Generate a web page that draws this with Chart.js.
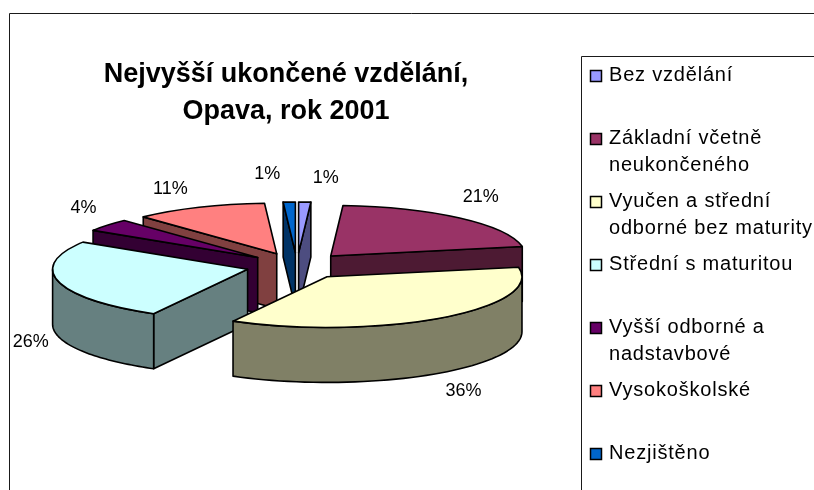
<!DOCTYPE html>
<html><head><meta charset="utf-8">
<style>html,body{margin:0;padding:0;background:#fff;overflow:hidden}canvas{display:block}</style>
<script src="https://cdn.jsdelivr.net/npm/chart.js@4/dist/chart.umd.min.js"></script>
</head><body><canvas id="c" width="814" height="490"></canvas>
<script>
const categories = ["Bez vzdělání","Základní včetně neukončeného","Vyučen a střední odborné bez maturity","Střední s maturitou","Vyšší odborné a nadstavbové","Vysokoškolské","Nezjištěno"];
const legendLines = [["Bez vzdělání"],["Základní včetně","neukončeného"],["Vyučen a střední","odborné bez maturity"],["Střední s maturitou"],["Vyšší odborné a","nadstavbové"],["Vysokoškolské"],["Nezjištěno"]];
const shares = [1,21,36,26,4,11,1];
const topColors = ["#9999FF","#993366","#FFFFCC","#CCFFFF","#660066","#FF8080","#0066CC"];
const wallColors = ["#4D4D80","#4D1A33","#808066","#668080","#330033","#804040","#003366"];
const titleLines = ["Nejvyšší ukončené vzdělání,","Opava, rok 2001"];

const TILT = 0.26, DEPTH = 55, EXPLODE = 51;
const labelShift = [[21,-24],[21,-21],[22,18],[-28,5],[-24,-17],[-29,-18],[-22,-28]];
const FONT = '"Liberation Sans", Arial, sans-serif';

const pie3d = {
  id: 'pie3d',
  beforeDraw(chart){
    const c = chart.ctx;
    c.save(); c.fillStyle='#fff'; c.fillRect(0,0,814,490);
    c.strokeStyle='#1a1a1a'; c.lineWidth=1;
    c.beginPath(); c.moveTo(9.5,490); c.lineTo(9.5,13.5); c.lineTo(814,13.5); c.stroke();
    c.beginPath(); c.moveTo(581.5,490); c.lineTo(581.5,56.5); c.lineTo(814,56.5); c.stroke();
    c.restore();
  },
  beforeDatasetsDraw(chart){
    const c = chart.ctx, meta = chart.getDatasetMeta(0);
    const items = meta.data.map((arc,i)=>({arc,i,mid:(arc.startAngle+arc.endAngle)/2}));
    items.sort((a,b)=>Math.sin(a.mid)-Math.sin(b.mid));
    c.save(); c.lineJoin='round'; c.lineWidth=1.6; c.strokeStyle='#000';
    for(const {arc,i,mid} of items){
      const {x,y,outerRadius:R,startAngle:s,endAngle:e}=arc;
      const ox=Math.cos(mid)*EXPLODE, oy=Math.sin(mid)*EXPLODE*TILT;
      const cx=x+ox, cy=y+oy;
      const P=(a,z=0)=>[cx+R*Math.cos(a), cy+TILT*R*Math.sin(a)+z];
      const poly=(pts,fill)=>{c.beginPath();pts.forEach((p,j)=>j?c.lineTo(p[0],p[1]):c.moveTo(p[0],p[1]));c.closePath();c.fillStyle=fill;c.fill();c.stroke();};
      const A=[cx,cy],Az=[cx,cy+DEPTH];
      if(Math.sin(s-Math.PI/2)>0) poly([A,P(s),P(s,DEPTH),Az],wallColors[i]);
      if(Math.sin(e+Math.PI/2)>0) poly([A,P(e),P(e,DEPTH),Az],wallColors[i]);
      const f0=Math.max(s,0), f1=Math.min(e,Math.PI);
      if(f1>f0){
        const pts=[]; const n=48;
        for(let j=0;j<=n;j++) pts.push(P(f0+(f1-f0)*j/n));
        for(let j=n;j>=0;j--) pts.push(P(f0+(f1-f0)*j/n,DEPTH));
        poly(pts,wallColors[i]);
      }
      c.save();
      c.translate(cx,cy); c.scale(1,TILT); c.translate(-x,-y);
      arc.draw(c);
      c.restore();
      c.beginPath(); c.moveTo(cx,cy);
      c.ellipse(cx,cy,R,R*TILT,0,s,e); c.closePath(); c.stroke();
    }
    c.restore();
    return false;
  },
  afterDraw(chart){
    const c = chart.ctx, meta = chart.getDatasetMeta(0);
    c.save(); c.fillStyle='#000'; c.textBaseline='middle';
    c.textAlign='center'; c.font='bold 27px '+FONT;
    titleLines.forEach((t,i)=>c.fillText(t,286,75+i*37));
    c.font='18px '+FONT;
    const total=shares.reduce((a,b)=>a+b,0);
    meta.data.forEach((arc,i)=>{
      const mid=(arc.startAngle+arc.endAngle)/2, R=arc.outerRadius;
      const cx=arc.x+Math.cos(mid)*EXPLODE, cy=arc.y+Math.sin(mid)*EXPLODE*TILT;
      const front=Math.sin(mid)>0?DEPTH:0;
      c.fillText(Math.round(shares[i]/total*100)+'%',cx+R*Math.cos(mid)+labelShift[i][0],cy+TILT*R*Math.sin(mid)+front+labelShift[i][1]);
    });
    c.textAlign='left'; c.font='20px '+FONT; c.letterSpacing='0.8px';
    legendLines.forEach((lines,i)=>{
      const y=76+i*63;
      c.fillStyle=topColors[i]; c.strokeStyle='#000'; c.lineWidth=1.5;
      c.fillRect(590.5,y-5.5,11,11); c.strokeRect(590.5,y-5.5,11,11);
      c.fillStyle='#000';
      lines.forEach((t,j)=>c.fillText(t,609,y-1+j*27));
    });
    c.restore();
  }
};

new Chart(document.getElementById('c'),{
  type:'pie',
  data:{labels:categories,datasets:[{data:shares,backgroundColor:topColors,borderWidth:0,radius:195}]},
  options:{responsive:false,animation:false,
    layout:{padding:{left:0,right:220,top:42,bottom:0}},
    plugins:{legend:{display:false},tooltip:{enabled:false},title:{display:false}}},
  plugins:[pie3d]
});
</script></body></html>
